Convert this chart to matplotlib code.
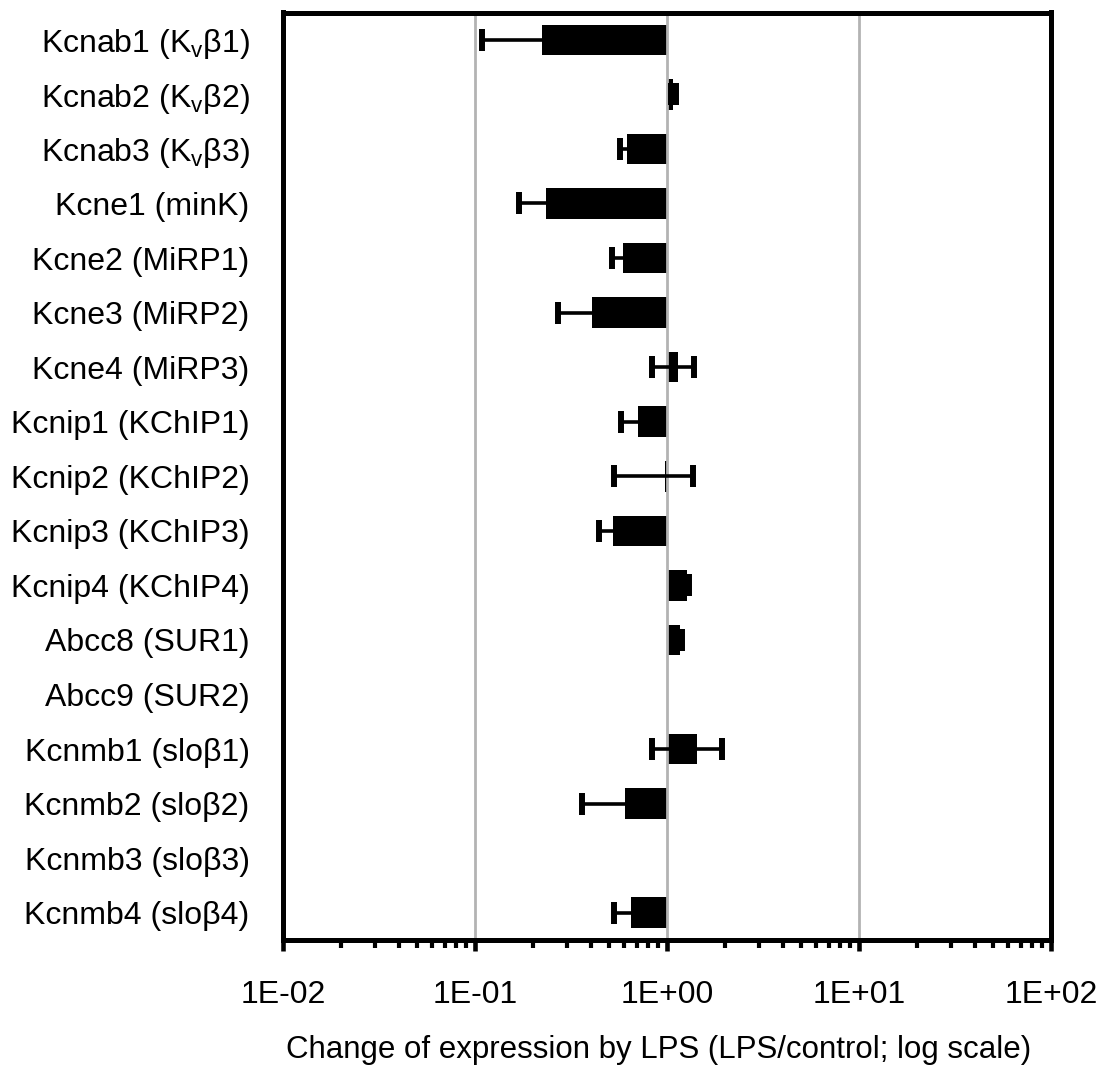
import numpy as np
import matplotlib
matplotlib.use("Agg")
import matplotlib.pyplot as plt
from matplotlib.ticker import LogLocator, FixedLocator, NullFormatter

plt.rcParams['font.family'] = ['Liberation Sans', 'DejaVu Sans']
plt.rcParams['mathtext.fontset'] = 'custom'
plt.rcParams['mathtext.rm'] = 'Liberation Sans'

genes = [
    r"Kcnab1 (K$_\mathregular{v}$β1)",
    r"Kcnab2 (K$_\mathregular{v}$β2)",
    r"Kcnab3 (K$_\mathregular{v}$β3)",
    "Kcne1 (minK)",
    "Kcne2 (MiRP1)",
    "Kcne3 (MiRP2)",
    "Kcne4 (MiRP3)",
    "Kcnip1 (KChIP1)",
    "Kcnip2 (KChIP2)",
    "Kcnip3 (KChIP3)",
    "Kcnip4 (KChIP4)",
    "Abcc8 (SUR1)",
    "Abcc9 (SUR2)",
    "Kcnmb1 (sloβ1)",
    "Kcnmb2 (sloβ2)",
    "Kcnmb3 (sloβ3)",
    "Kcnmb4 (sloβ4)",
]
ratio = [0.223, 1.08, 0.619, 0.234, 0.590, 0.407, 1.14, 0.706, 0.975,
         0.523, 1.27, 1.17, np.nan, 1.43, 0.604, np.nan, 0.649]
err_lo = [0.114, 0.035, 0.052, 0.064, 0.071, 0.135, 0.30, 0.128, 0.444,
          0.079, 0.03, 0.02, np.nan, 0.59, 0.242, np.nan, 0.118]
err_hi = [0.114, 0.035, 0.052, 0.064, 0.071, 0.135, 0.25, 0.128, 0.396,
          0.079, 0.03, 0.02, np.nan, 0.51, 0.242, np.nan, 0.118]
xtick_vals = [1e-2, 1e-1, 1e0, 1e1, 1e2]
xtick_labels = ["1E-02", "1E-01", "1E+00", "1E+01", "1E+02"]

W, H = 1109, 1066
fig = plt.figure(figsize=(W / 100, H / 100), dpi=100)
L, R, T, B = 283, 1051, 12.5, 940
ax = fig.add_axes([L / W, 1 - B / H, (R - L) / W, (B - T) / H])

y = np.arange(len(genes))
r = np.array(ratio, dtype=float)
base = 1.0
ax.barh(y, r - base, left=base, height=0.56, color='black', zorder=1)

lo = np.array(err_lo, dtype=float)
hi = np.array(err_hi, dtype=float)
mask = ~np.isnan(r)
ax.errorbar(r[mask], y[mask], xerr=[lo[mask], hi[mask]], fmt='none',
            ecolor='black', elinewidth=2.6, capsize=7.8, capthick=4.3, zorder=3)

ax.set_xscale('log')
ax.set_xlim(1e-2, 1e2)
ax.set_ylim(len(genes) - 0.5, -0.5)

ax.xaxis.set_major_locator(FixedLocator(xtick_vals))
ax.set_xticklabels(xtick_labels)
ax.xaxis.set_minor_locator(LogLocator(base=10, subs=np.arange(2, 10)))
ax.xaxis.set_minor_formatter(NullFormatter())
ax.tick_params(axis='x', which='major', length=8, width=3.3, direction='out',
               labelsize=23, pad=21)
ax.tick_params(axis='x', which='minor', length=5.7, width=3.0, direction='out')

ax.set_yticks(y)
ax.set_yticklabels(genes)
ax.tick_params(axis='y', length=0, labelsize=23, pad=24)

ax.grid(True, axis='x', which='major', color='#b3b3b3', linewidth=2.0, zorder=2)
ax.set_axisbelow(False)

for s in ax.spines.values():
    s.set_linewidth(3.6)
    s.set_color('black')
    s.set_zorder(4)

ax.set_xlabel("Change of expression by LPS (LPS/control; log scale)", fontsize=22.5)
ax.xaxis.set_label_coords(0.489, -0.1025)
ax.xaxis.label.set_va('top')

fig.savefig("out.png", dpi=100)
